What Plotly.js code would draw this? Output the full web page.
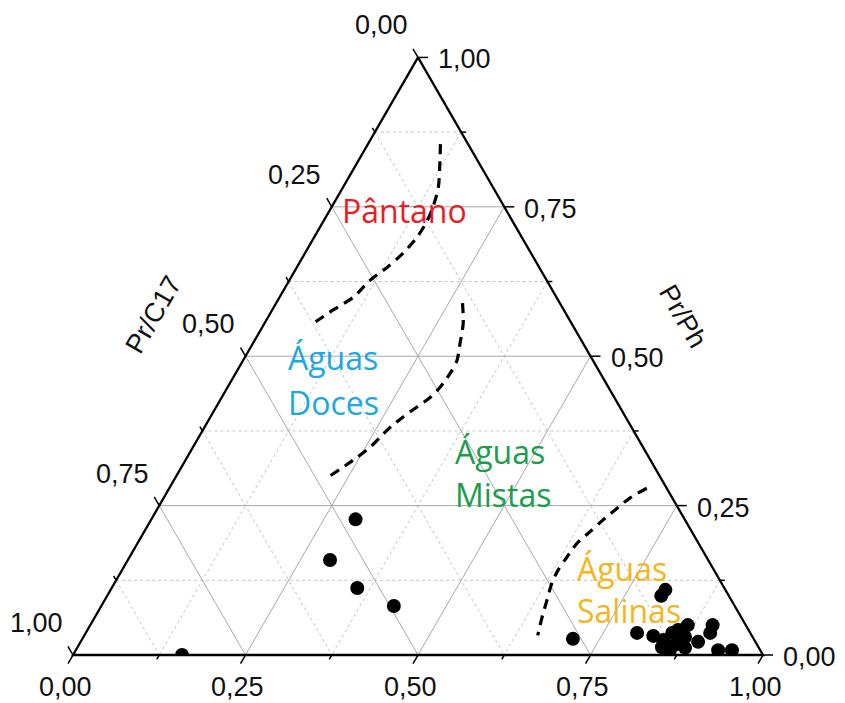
<!DOCTYPE html>
<html>
<head>
<meta charset="utf-8">
<script src="https://cdn.plot.ly/plotly-3.0.1.min.js"></script>
<style>
  html, body { margin: 0; padding: 0; background: #ffffff; }
  #chart { width: 845px; height: 703px; }
</style>
</head>
<body>
<div id="chart"></div>
<script>
// Sample compositions as fractions: Pr/Ph (top vertex), Pr/C17 (left vertex), Ph/C18 (right vertex)
const prPh  = [0.227, 0.159, 0.112, 0.082, 0.000, 0.109, 0.099, 0.037, 0.032, 0.025, 0.013, 0.037, 0.042,
               0.050, 0.030, 0.017, 0.012, 0.022, 0.037, 0.050, 0.008, 0.008, 0.025, 0.008, 0.027];
const prC17 = [0.477, 0.548, 0.532, 0.494, 0.842, 0.087, 0.098, 0.164, 0.143, 0.132, 0.140, 0.113, 0.102,
               0.084, 0.098, 0.119, 0.107, 0.083, 0.058, 0.048, 0.061, 0.041, 0.108, 0.131, 0.262];
const phC18 = [0.296, 0.293, 0.356, 0.424, 0.158, 0.804, 0.803, 0.799, 0.825, 0.843, 0.847, 0.850, 0.856,
               0.866, 0.872, 0.864, 0.881, 0.895, 0.905, 0.902, 0.931, 0.951, 0.867, 0.861, 0.711];

// Environment boundaries (Pr/Ph and Ph/C18 fractions along each dashed curve)
const pantanoPrPh  = [0.855, 0.819, 0.783, 0.749, 0.726, 0.699, 0.672, 0.649, 0.627, 0.599, 0.577, 0.554];
const pantanoPhC18 = [0.105, 0.122, 0.138, 0.147, 0.150, 0.149, 0.142, 0.131, 0.117, 0.107, 0.088, 0.070];
const docesPrPh    = [0.589, 0.555, 0.522, 0.493, 0.472, 0.448, 0.431, 0.415, 0.398, 0.376, 0.348, 0.326, 0.294];
const docesPhC18   = [0.270, 0.288, 0.300, 0.310, 0.311, 0.308, 0.302, 0.291, 0.279, 0.267, 0.257, 0.243, 0.218];
const salinasPrPh  = [0.279, 0.263, 0.246, 0.226, 0.206, 0.187, 0.164, 0.142, 0.120, 0.092, 0.064, 0.033];
const salinasPhC18 = [0.692, 0.676, 0.666, 0.655, 0.646, 0.637, 0.634, 0.632, 0.634, 0.641, 0.648, 0.657];

// Axis ticks
const majorTicks = [0, 0.25, 0.5, 0.75, 1];
const tickLabels = ['0,00', '0,25', '0,50', '0,75', '1,00'];
const minorTicks = [0.125, 0.375, 0.625, 0.875];

// Environment labels (one entry per text line), placed by Pr/Ph and Ph/C18
const regionText  = ['Pântano', 'Águas', 'Doces', 'Águas', 'Mistas', 'Águas', 'Salinas'];
const regionPrPh  = [0.744, 0.498, 0.423, 0.341, 0.269, 0.145, 0.074];
const regionPhC18 = [0.109, 0.060, 0.097, 0.380, 0.416, 0.655, 0.691];
const regionColor = ['#ec1c24', '#1ea7e1', '#1ea7e1', '#1a9e4b', '#1a9e4b', '#f4b61c', '#f4b61c'];
const regionAlign = ['center', 'left', 'left', 'left', 'left', 'left', 'left'];

// ---- geometry: ternary -> cartesian (unit side, Ph/C18 vertex on the right) ----
const S3 = Math.sqrt(3) / 2;
const PX = 1 / 690;                 // one screen pixel in data units
function xy(a, c) { return [c + a / 2, a * S3]; }

// Grid lines for a family value t; family: 'a' (Pr/Ph), 'b' (Pr/C17), 'c' (Ph/C18)
function gridSeg(family, t) {
  if (family === 'a') return [xy(t, 0), xy(t, 1 - t)];
  if (family === 'b') return [xy(1 - t, 0), xy(0, 1 - t)];
  return [xy(1 - t, t), xy(0, t)];
}
function gridTrace(values, color, dash) {
  const x = [], y = [];
  ['a', 'b', 'c'].forEach(f => values.forEach(t => {
    const [p, q] = gridSeg(f, t);
    x.push(p[0], q[0], null); y.push(p[1], q[1], null);
  }));
  return { type: 'scatter', mode: 'lines', x, y, xaxis: 'x', yaxis: 'y',
           line: { color, width: 1, dash }, hoverinfo: 'skip', showlegend: false };
}

// Tick marks: bottom axis follows the left edge direction, left axis follows
// the right edge direction, right axis is horizontal.
function tickPoint(axis, t) {
  if (axis === 'bottom') return xy(0, t);
  if (axis === 'left') return xy(1 - t, 0);
  return xy(t, 1 - t);
}
const tickDir = { bottom: [-0.5, -S3], left: [-0.5, S3], right: [1, 0] };
function tickTrace() {
  const x = [], y = [];
  ['bottom', 'left', 'right'].forEach(ax => {
    [[majorTicks, 10], [minorTicks, 5]].forEach(([vals, len]) => {
      vals.forEach(t => {
        const p = tickPoint(ax, t), d = tickDir[ax];
        x.push(p[0], p[0] + d[0] * len * PX, null);
        y.push(p[1], p[1] + d[1] * len * PX, null);
      });
    });
  });
  return { type: 'scatter', mode: 'lines', x, y, xaxis: 'x', yaxis: 'y',
           line: { color: '#000', width: 1.5 }, hoverinfo: 'skip', showlegend: false };
}

function edgeTrace() {
  const v = [xy(1, 0), xy(0, 0), xy(0, 1), xy(1, 0)];
  return { type: 'scatter', mode: 'lines', x: v.map(p => p[0]), y: v.map(p => p[1]),
           xaxis: 'x', yaxis: 'y', line: { color: '#000', width: 2.3 },
           hoverinfo: 'skip', showlegend: false };
}

function boundaryTrace(aVals, cVals) {
  const pts = aVals.map((a, i) => xy(a, cVals[i]));
  return { type: 'scatter', mode: 'lines', x: pts.map(p => p[0]), y: pts.map(p => p[1]),
           xaxis: 'x', yaxis: 'y',
           line: { color: '#000', width: 3.2, dash: '10px,7px', shape: 'spline', smoothing: 0.8 },
           hoverinfo: 'skip', showlegend: false };
}

const samplePts = prPh.map((a, i) => {
  const s = a + prC17[i] + phC18[i];
  return xy(a / s, phC18[i] / s);
});
const sampleTrace = {
  type: 'scatter', mode: 'markers',
  x: samplePts.map(p => p[0]), y: samplePts.map(p => p[1]),
  xaxis: 'x', yaxis: 'y2',
  marker: { color: '#000', size: 14, line: { width: 0 } },
  hoverinfo: 'skip', showlegend: false
};

const traces = [
  gridTrace(minorTicks, '#c4c4c4', '3px,3px'),
  gridTrace([0.25, 0.5, 0.75], '#a8a8a8', 'solid'),
  boundaryTrace(pantanoPrPh, pantanoPhC18),
  boundaryTrace(docesPrPh, docesPhC18),
  boundaryTrace(salinasPrPh, salinasPhC18),
  edgeTrace(),
  tickTrace(),
  sampleTrace
];

// ---- annotations: tick labels, axis titles, environment names ----
const tickFont = { family: 'Liberation Sans, Arial, sans-serif', size: 27, color: '#111' };
const annotations = [];
majorTicks.forEach((t, i) => {
  const pb = tickPoint('bottom', t);
  annotations.push({ x: pb[0], y: pb[1], xref: 'x', yref: 'y', text: tickLabels[i], showarrow: false,
                     xanchor: 'center', yanchor: 'middle', xshift: -8, yshift: -32, font: tickFont });
  const pl = tickPoint('left', t);
  annotations.push({ x: pl[0], y: pl[1], xref: 'x', yref: 'y', text: tickLabels[i], showarrow: false,
                     xanchor: 'center', yanchor: 'middle', xshift: -37, yshift: 32, font: tickFont });
  const pr = tickPoint('right', t);
  annotations.push({ x: pr[0], y: pr[1], xref: 'x', yref: 'y', text: tickLabels[i], showarrow: false,
                     xanchor: 'left', yanchor: 'middle', xshift: 18, yshift: -2, font: tickFont });
});

const leftMid = tickPoint('left', 0.5), rightMid = tickPoint('right', 0.5);
annotations.push({ x: leftMid[0], y: leftMid[1], xref: 'x', yref: 'y', text: 'Pr/C17', showarrow: false,
                   textangle: -60, xanchor: 'center', yanchor: 'middle', xshift: -92, yshift: 41,
                   font: tickFont });
annotations.push({ x: rightMid[0], y: rightMid[1], xref: 'x', yref: 'y', text: 'Pr/Ph', showarrow: false,
                   textangle: 60, xanchor: 'center', yanchor: 'middle', xshift: 92, yshift: 40,
                   font: tickFont });

regionText.forEach((txt, i) => {
  const p = xy(regionPrPh[i], regionPhC18[i]);
  annotations.push({ x: p[0], y: p[1], xref: 'x', yref: 'y', text: txt, showarrow: false,
                     xanchor: regionAlign[i], yanchor: 'middle',
                     font: { family: 'Open Sans, sans-serif', size: 32, color: regionColor[i] } });
});

// Axes are hidden; they only provide a 1:1 pixel scale. The second y axis
// starts at the base line so that sample markers are clipped there.
const W = 845, H = 703, X0 = 73, Y0 = 655;
const hidden = { visible: false, showgrid: false, zeroline: false, fixedrange: true };
const layout = {
  width: W, height: H, autosize: false,
  margin: { l: 0, r: 0, t: 0, b: 0, pad: 0 },
  paper_bgcolor: '#ffffff', plot_bgcolor: 'rgba(0,0,0,0)',
  showlegend: false, hovermode: false,
  xaxis: Object.assign({ range: [-X0 * PX, (W - X0) * PX], domain: [0, 1] }, hidden),
  yaxis: Object.assign({ range: [-(H - Y0) * PX, Y0 * PX], domain: [0, 1] }, hidden),
  yaxis2: Object.assign({ range: [0, Y0 * PX], domain: [(H - Y0) / H, 1], anchor: 'x' }, hidden),
  annotations
};

Plotly.newPlot('chart', traces, layout, { staticPlot: true, displayModeBar: false });
</script>
</body>
</html>
